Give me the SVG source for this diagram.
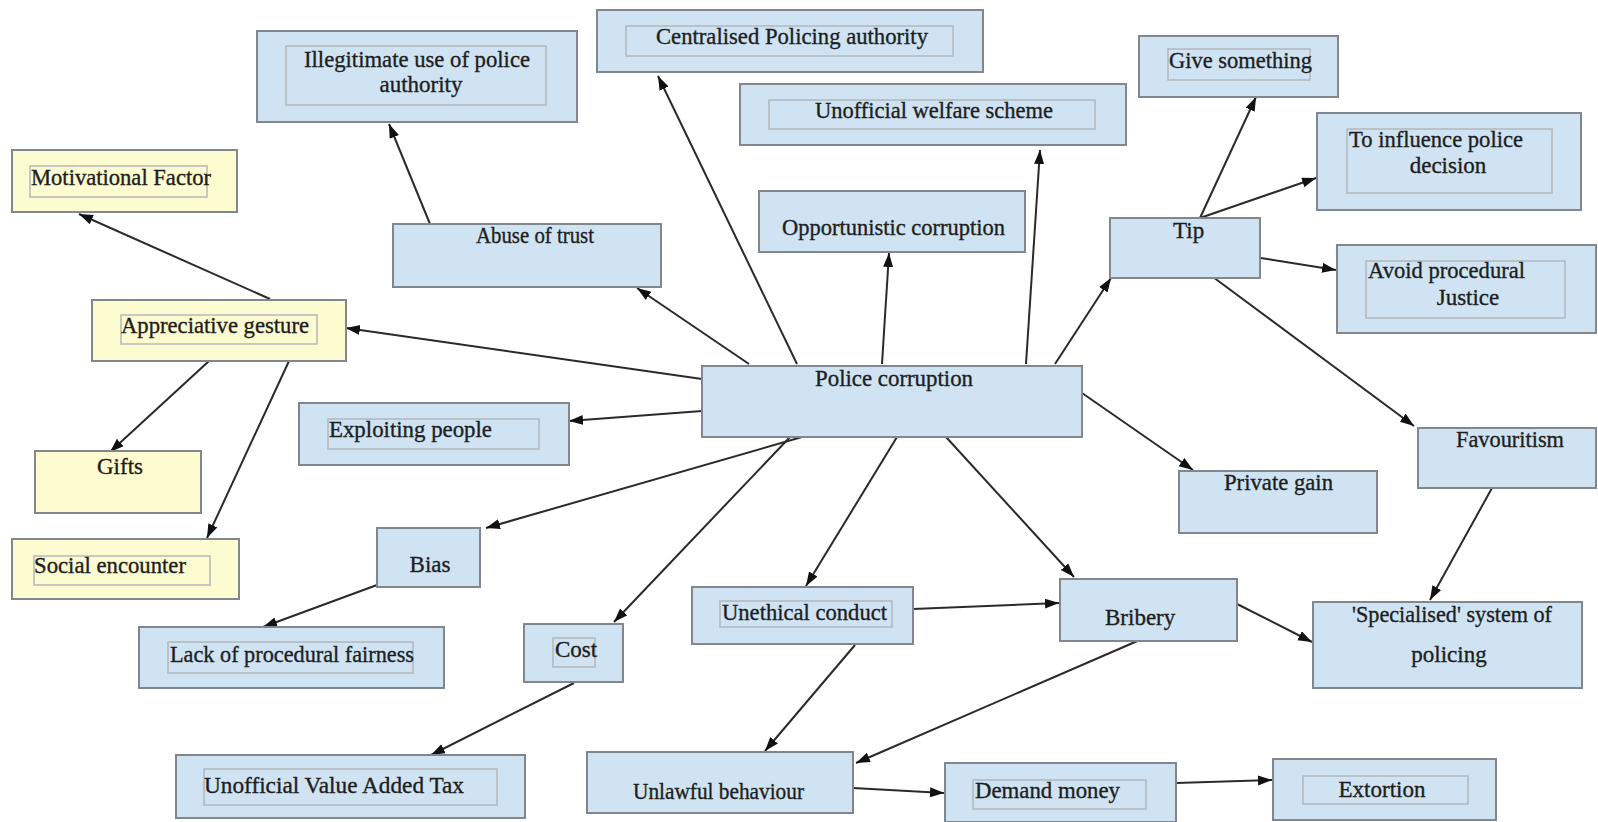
<svg xmlns="http://www.w3.org/2000/svg" width="1598" height="822" viewBox="0 0 1598 822">
<defs>
<marker id="ah" markerUnits="userSpaceOnUse" markerWidth="16" markerHeight="12" refX="14" refY="5" orient="auto"><path d="M0,0 L14,5 L0,10 z" fill="#111"/></marker>
<style>
.b{fill:#cfe3f3;stroke:#80878e;stroke-width:2}
.y{fill:#fdfbd0;stroke:#80878e;stroke-width:2}
.i{fill:none;stroke:#b4b8bc;stroke-width:1.5}
text{font-family:"Liberation Serif","Times New Roman",serif;font-size:23px;fill:#1e1e1e;stroke:#1e1e1e;stroke-width:0.35}
.m{text-anchor:middle}
.e line{stroke:#2a2a2a;stroke-width:2;marker-end:url(#ah)}
</style>
</defs>
<rect width="1598" height="822" fill="#fff"/>
<g class="e" id="connectors">
<line x1="702" y1="379" x2="346" y2="328"/>
<line x1="749" y1="364" x2="637" y2="288"/>
<line x1="797" y1="364" x2="658" y2="76"/>
<line x1="882" y1="364" x2="889" y2="253"/>
<line x1="1026" y1="364" x2="1040" y2="150"/>
<line x1="1055" y1="364" x2="1111" y2="278"/>
<line x1="702" y1="411" x2="569" y2="421"/>
<line x1="802" y1="437" x2="486" y2="528"/>
<line x1="790" y1="437" x2="614" y2="622"/>
<line x1="897" y1="437" x2="806" y2="586"/>
<line x1="946" y1="437" x2="1074" y2="577"/>
<line x1="1082" y1="393" x2="1193" y2="470"/>
<line x1="1200" y1="218" x2="1256" y2="97"/>
<line x1="1200" y1="218" x2="1316" y2="178"/>
<line x1="1261" y1="258" x2="1336" y2="270"/>
<line x1="1213" y1="277" x2="1414" y2="426"/>
<line x1="1492" y1="488" x2="1430" y2="600"/>
<line x1="1237" y1="604" x2="1312" y2="642"/>
<line x1="913" y1="609" x2="1059" y2="603"/>
<line x1="855" y1="645" x2="765" y2="751"/>
<line x1="1142" y1="639" x2="856" y2="763"/>
<line x1="853" y1="788" x2="944" y2="793"/>
<line x1="1176" y1="783" x2="1272" y2="780"/>
<line x1="574" y1="683" x2="431" y2="755"/>
<line x1="377" y1="585" x2="263" y2="627"/>
<line x1="430" y1="224" x2="389" y2="124"/>
<line x1="270" y1="299" x2="79" y2="214"/>
<line x1="209" y1="361" x2="110" y2="452"/>
<line x1="289" y1="361" x2="207" y2="538"/>
</g>
<g id="n-illegitimate"><rect class="b" x="257" y="31" width="320" height="91"/><rect class="i" x="286" y="46" width="260" height="59"/><text x="304" y="67" textLength="226" lengthAdjust="spacingAndGlyphs">Illegitimate use of police</text><text class="m" x="421" y="92">authority</text></g>
<g id="n-centralised"><rect class="b" x="597" y="10" width="386" height="62"/><rect class="i" x="626" y="26" width="327" height="30"/><text x="656" y="44" textLength="272" lengthAdjust="spacingAndGlyphs">Centralised Policing authority</text></g>
<g id="n-welfare"><rect class="b" x="740" y="84" width="386" height="61"/><rect class="i" x="769" y="100" width="326" height="29"/><text x="815" y="118" textLength="238" lengthAdjust="spacingAndGlyphs">Unofficial welfare scheme</text></g>
<g id="n-give"><rect class="b" x="1139" y="36" width="199" height="61"/><rect class="i" x="1168" y="49" width="142" height="31"/><text x="1169" y="68" textLength="143" lengthAdjust="spacingAndGlyphs">Give something</text></g>
<g id="n-influence"><rect class="b" x="1317" y="113" width="264" height="97"/><rect class="i" x="1347" y="129" width="205" height="64"/><text x="1349" y="147" textLength="174" lengthAdjust="spacingAndGlyphs">To influence police</text><text class="m" x="1448" y="173">decision</text></g>
<g id="n-motivational"><rect class="y" x="12" y="150" width="225" height="62"/><rect class="i" x="30" y="166" width="177" height="31"/><text x="31" y="185" textLength="180" lengthAdjust="spacingAndGlyphs">Motivational Factor</text></g>
<g id="n-abuse"><rect class="b" x="393" y="224" width="268" height="63"/><text x="476" y="243" textLength="118" lengthAdjust="spacingAndGlyphs">Abuse of trust</text></g>
<g id="n-opportunistic"><rect class="b" x="759" y="191" width="266" height="61"/><text x="782" y="235" textLength="223" lengthAdjust="spacingAndGlyphs">Opportunistic corruption</text></g>
<g id="n-tip"><rect class="b" x="1110" y="218" width="150" height="60"/><text x="1173" y="238">Tip</text></g>
<g id="n-avoid"><rect class="b" x="1337" y="245" width="259" height="88"/><rect class="i" x="1366" y="261" width="199" height="57"/><text x="1368" y="278" textLength="157" lengthAdjust="spacingAndGlyphs">Avoid procedural</text><text class="m" x="1468" y="305">Justice</text></g>
<g id="n-appreciative"><rect class="y" x="92" y="300" width="254" height="61"/><rect class="i" x="121" y="315" width="196" height="29"/><text x="121" y="333" textLength="188" lengthAdjust="spacingAndGlyphs">Appreciative gesture</text></g>
<g id="n-police"><rect class="b" x="702" y="366" width="380" height="71"/><text x="815" y="386" textLength="158" lengthAdjust="spacingAndGlyphs">Police corruption</text></g>
<g id="n-exploiting"><rect class="b" x="299" y="403" width="270" height="62"/><rect class="i" x="328" y="419" width="211" height="30"/><text x="329" y="437" textLength="163" lengthAdjust="spacingAndGlyphs">Exploiting people</text></g>
<g id="n-gifts"><rect class="y" x="35" y="451" width="166" height="62"/><text class="m" x="120" y="474">Gifts</text></g>
<g id="n-favouritism"><rect class="b" x="1418" y="428" width="178" height="60"/><text x="1456" y="447" textLength="108" lengthAdjust="spacingAndGlyphs">Favouritism</text></g>
<g id="n-private"><rect class="b" x="1179" y="471" width="198" height="62"/><text x="1224" y="490" textLength="109" lengthAdjust="spacingAndGlyphs">Private gain</text></g>
<g id="n-social"><rect class="y" x="12" y="539" width="227" height="60"/><rect class="i" x="34" y="556" width="176" height="29"/><text x="34" y="573" textLength="152" lengthAdjust="spacingAndGlyphs">Social encounter</text></g>
<g id="n-bias"><rect class="b" x="377" y="528" width="103" height="59"/><text class="m" x="430" y="572">Bias</text></g>
<g id="n-unethical"><rect class="b" x="692" y="587" width="221" height="57"/><rect class="i" x="720" y="601" width="172" height="26"/><text x="722" y="620" textLength="165" lengthAdjust="spacingAndGlyphs">Unethical conduct</text></g>
<g id="n-bribery"><rect class="b" x="1060" y="579" width="177" height="62"/><text x="1105" y="625">Bribery</text></g>
<g id="n-specialised"><rect class="b" x="1313" y="602" width="269" height="86"/><text x="1352" y="622" textLength="200" lengthAdjust="spacingAndGlyphs">'Specialised' system of</text><text class="m" x="1449" y="662">policing</text></g>
<g id="n-lack"><rect class="b" x="139" y="627" width="305" height="61"/><rect class="i" x="168" y="642" width="245" height="31"/><text x="170" y="662" textLength="244" lengthAdjust="spacingAndGlyphs">Lack of procedural fairness</text></g>
<g id="n-cost"><rect class="b" x="524" y="624" width="99" height="58"/><rect class="i" x="553" y="638" width="42" height="29"/><text x="555" y="657">Cost</text></g>
<g id="n-vat"><rect class="b" x="176" y="755" width="349" height="63"/><rect class="i" x="204" y="769" width="293" height="36"/><text x="204" y="793" textLength="260" lengthAdjust="spacingAndGlyphs">Unofficial Value Added Tax</text></g>
<g id="n-unlawful"><rect class="b" x="587" y="752" width="266" height="61"/><text x="633" y="799" textLength="171" lengthAdjust="spacingAndGlyphs">Unlawful behaviour</text></g>
<g id="n-demand"><rect class="b" x="945" y="763" width="231" height="59"/><rect class="i" x="973" y="780" width="173" height="29"/><text x="975" y="798" textLength="145" lengthAdjust="spacingAndGlyphs">Demand money</text></g>
<g id="n-extortion"><rect class="b" x="1273" y="759" width="223" height="61"/><rect class="i" x="1303" y="776" width="165" height="28"/><text class="m" x="1382" y="797">Extortion</text></g>
</svg>
